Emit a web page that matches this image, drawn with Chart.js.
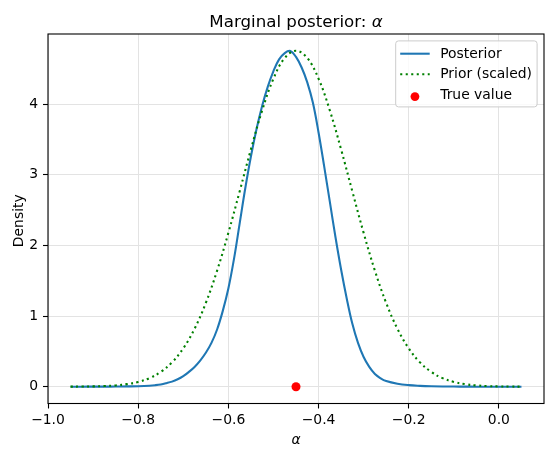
<!DOCTYPE html>
<html>
<head>
<meta charset="utf-8">
<title>Marginal posterior</title>
<script src="https://cdn.jsdelivr.net/npm/chart.js@4.4.1/dist/chart.umd.min.js"></script>
<style>
  html, body { margin: 0; padding: 0; background: #fff; }
  #wrap { width: 554px; height: 457px; }
</style>
</head>
<body>
<div id="wrap"><canvas id="postChart" width="554" height="457"></canvas></div>
<script>
// values
const posteriorAlpha = [-0.95, -0.925, -0.9, -0.875, -0.85, -0.825, -0.8, -0.775, -0.7625, -0.75,
  -0.7375, -0.725, -0.7125, -0.7, -0.6875, -0.675, -0.6625, -0.65, -0.6375, -0.625,
  -0.6125, -0.6, -0.5875, -0.575, -0.5625, -0.55, -0.5375, -0.525, -0.5125, -0.5,
  -0.4875, -0.475, -0.4625, -0.45, -0.4375, -0.425, -0.4125, -0.4, -0.3875, -0.375,
  -0.3625, -0.35, -0.3375, -0.325, -0.3125, -0.3, -0.2875, -0.275, -0.2625, -0.25,
  -0.225, -0.2, -0.175, -0.15, -0.125, -0.1, -0.075, -0.05, -0.025, 0.0, 0.025, 0.05];
const posteriorDensity = [0, 0, 0.001, 0.001, 0.002, 0.004, 0.007, 0.014, 0.021, 0.032,
  0.05, 0.072, 0.105, 0.15, 0.21, 0.28, 0.37, 0.48, 0.62, 0.81,
  1.07, 1.39, 1.81, 2.31, 2.81, 3.26, 3.65, 3.98, 4.25, 4.47,
  4.635, 4.725, 4.755, 4.67, 4.52, 4.31, 4.02, 3.60, 3.12, 2.62,
  2.12, 1.66, 1.25, 0.89, 0.62, 0.42, 0.28, 0.18, 0.12, 0.08,
  0.042, 0.022, 0.012, 0.006, 0.003, 0.002, 0.001, 0, 0, 0, 0, 0];

const priorAlpha = [-0.95, -0.925, -0.9, -0.875, -0.85, -0.825, -0.8, -0.775, -0.75, -0.725,
  -0.7, -0.675, -0.65, -0.625, -0.6, -0.575, -0.55, -0.525, -0.5, -0.475,
  -0.45, -0.425, -0.4, -0.375, -0.35, -0.325, -0.3, -0.275, -0.25, -0.225,
  -0.2, -0.175, -0.15, -0.125, -0.1, -0.075, -0.05, -0.025, 0.0, 0.025, 0.05];
const priorDensity = [0.001, 0.002, 0.004, 0.009, 0.018, 0.036, 0.068, 0.121, 0.209, 0.344,
  0.543, 0.820, 1.186, 1.643, 2.178, 2.765, 3.361, 3.913, 4.362, 4.655,
  4.757, 4.655, 4.362, 3.913, 3.361, 2.765, 2.178, 1.643, 1.186, 0.820,
  0.543, 0.344, 0.209, 0.121, 0.068, 0.036, 0.018, 0.009, 0.004, 0.002, 0.001];

const trueAlpha = [-0.45];
const trueDensity = [0];

const xTicks = [-1.0, -0.8, -0.6, -0.4, -0.2, 0.0];
const yTicks = [0, 1, 2, 3, 4];

const FONT = "DejaVu Sans";
const MINUS = "\u2212";

function pairs(xs, ys) {
  return xs.map((x, i) => ({ x: x, y: ys[i] }));
}

// title, axis labels, frame and legend drawn the matplotlib way
const decorations = {
  id: "decorations",
  afterDraw(chart) {
    const ctx = chart.ctx;
    const a = chart.chartArea;
    const cx = (a.left + a.right) / 2;
    ctx.save();
    ctx.fillStyle = "#000";

    // title with italic alpha
    const t1 = "Marginal posterior: ";
    ctx.font = "16.67px '" + FONT + "'";
    const w1 = ctx.measureText(t1).width;
    ctx.font = "italic 16.67px '" + FONT + "'";
    const w2 = ctx.measureText("\u03b1").width;
    let tx = cx - (w1 + w2) / 2;
    ctx.textBaseline = "alphabetic";
    ctx.textAlign = "left";
    ctx.font = "16.67px '" + FONT + "'";
    ctx.fillText(t1, tx, 26.5);
    ctx.font = "italic 16.67px '" + FONT + "'";
    ctx.fillText("\u03b1", tx + w1, 26.5);

    // x label
    ctx.font = "italic 13.9px '" + FONT + "'";
    ctx.textAlign = "center";
    ctx.fillText("\u03b1", cx, 444);

    // y label
    ctx.save();
    ctx.translate(22.5, (a.top + a.bottom) / 2 + 2);
    ctx.rotate(-Math.PI / 2);
    ctx.font = "13.9px '" + FONT + "'";
    ctx.textAlign = "center";
    ctx.fillText("Density", 0, 0);
    ctx.restore();

    // frame
    ctx.strokeStyle = "#000";
    ctx.lineWidth = 1.1;
    ctx.strokeRect(a.left, a.top, a.right - a.left, a.bottom - a.top);

    // legend
    const bx = a.right - 6.9 - 141.4, by = a.top + 6.9, bw = 141.4, bh = 66;
    ctx.beginPath();
    ctx.roundRect(bx, by, bw, bh, 2.8);
    ctx.fillStyle = "rgba(255,255,255,0.8)";
    ctx.fill();
    ctx.strokeStyle = "#cccccc";
    ctx.lineWidth = 1;
    ctx.stroke();

    const ds = chart.data.datasets;
    const rows = [by + 12.8, by + 33.4, by + 54.2];
    const hx0 = bx + 4.5, hx1 = bx + 34;
    ctx.font = "13.9px '" + FONT + "'";
    ctx.textAlign = "left";
    ctx.textBaseline = "middle";
    ds.forEach((d, i) => {
      const y = rows[i];
      if (d.type === "scatter") {
        ctx.beginPath();
        ctx.arc((hx0 + hx1) / 2, y + 1.5, 4.4, 0, Math.PI * 2);
        ctx.fillStyle = d.backgroundColor;
        ctx.fill();
      } else {
        ctx.beginPath();
        ctx.setLineDash(d.borderDash || []);
        ctx.moveTo(hx0, y);
        ctx.lineTo(hx1, y);
        ctx.strokeStyle = d.borderColor;
        ctx.lineWidth = d.borderWidth;
        ctx.stroke();
        ctx.setLineDash([]);
      }
      ctx.fillStyle = "#000";
      ctx.fillText(d.label, bx + 44.5, y + 0.5);
    });
    ctx.restore();
  }
};

const ctx = document.getElementById("postChart").getContext("2d");
new Chart(ctx, {
  type: "line",
  data: {
    datasets: [
      {
        label: "Posterior",
        data: pairs(posteriorAlpha, posteriorDensity),
        borderColor: "#1f77b4",
        borderWidth: 2.08,
        pointRadius: 0,
        tension: 0.4,
        fill: false,
        order: 2
      },
      {
        label: "Prior (scaled)",
        data: pairs(priorAlpha, priorDensity),
        borderColor: "#008000",
        borderWidth: 2.08,
        borderDash: [2.08, 3.43],
        borderCapStyle: "butt",
        pointRadius: 0,
        tension: 0.4,
        fill: false,
        order: 1
      },
      {
        type: "scatter",
        label: "True value",
        data: pairs(trueAlpha, trueDensity),
        backgroundColor: "#ff0000",
        borderColor: "#ff0000",
        borderWidth: 0,
        pointRadius: 4.5,
        showLine: false,
        order: 0
      }
    ]
  },
  options: {
    responsive: false,
    animation: false,
    devicePixelRatio: 1,
    layout: { padding: { top: 34, right: 10, left: 0, bottom: 0 } },
    plugins: {
      legend: { display: false },
      title: { display: false },
      tooltip: { enabled: false }
    },
    scales: {
      x: {
        type: "linear",
        min: -1.0,
        max: 0.1,
        afterBuildTicks: s => { s.ticks = xTicks.map(v => ({ value: v })); },
        afterFit: s => { s.height = 53.5; },
        border: { display: false },
        grid: { color: "#e3e3e3", lineWidth: 1, tickColor: "#000", tickLength: 5, tickWidth: 1.1 },
        ticks: {
          autoSkip: false,
          maxRotation: 0,
          padding: 4,
          color: "#000",
          font: { family: FONT, size: 13.9 },
          callback: v => (v < -1e-9 ? MINUS : "") + Math.abs(v).toFixed(1)
        }
      },
      y: {
        type: "linear",
        min: -0.238,
        max: 4.995,
        afterBuildTicks: s => { s.ticks = yTicks.map(v => ({ value: v })); },
        afterFit: s => { s.width = 48; },
        border: { display: false },
        grid: { color: "#e3e3e3", lineWidth: 1, tickColor: "#000", tickLength: 5, tickWidth: 1.1 },
        ticks: {
          autoSkip: false,
          padding: 5,
          color: "#000",
          font: { family: FONT, size: 13.9 },
          callback: v => String(v)
        }
      }
    }
  },
  plugins: [decorations]
});
</script>
</body>
</html>
